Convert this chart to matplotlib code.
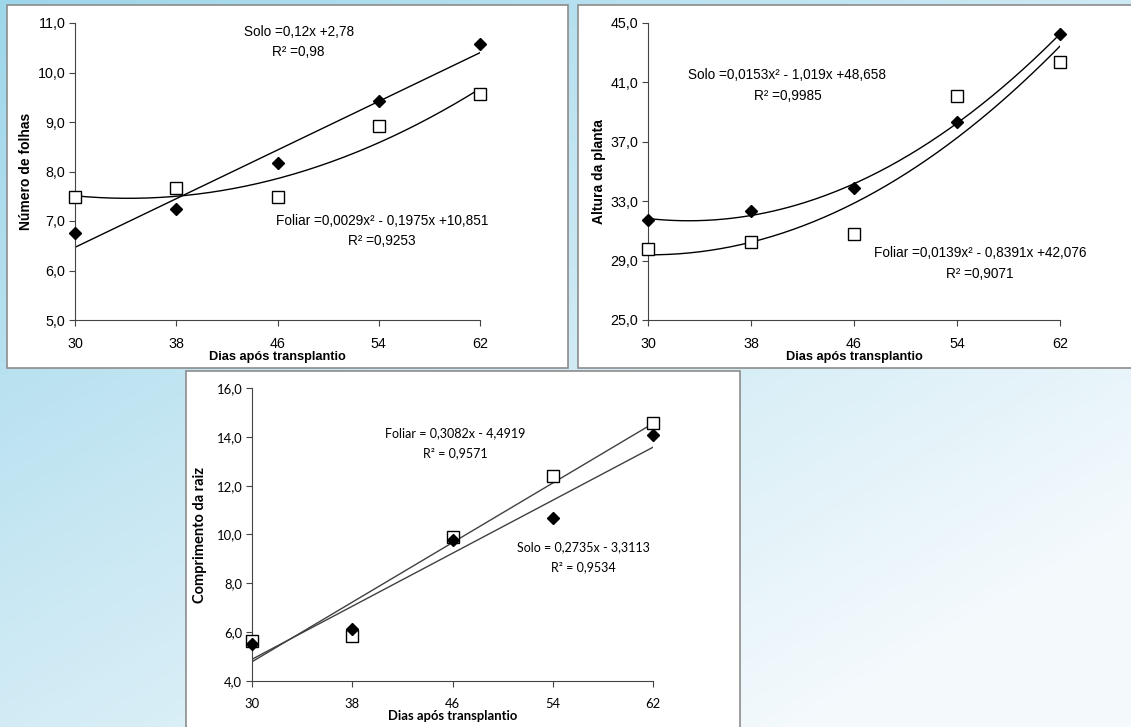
import numpy as np
import matplotlib.pyplot as plt
from matplotlib.patches import Rectangle
from matplotlib.ticker import FuncFormatter

plt.rcParams['font.family'] = ['Liberation Sans', 'DejaVu Sans']

dias = [30, 38, 46, 54, 62]

folhas_solo = [6.75, 7.25, 8.17, 9.42, 10.58]
folhas_foliar = [7.49, 7.66, 7.49, 8.91, 9.57]

altura_solo = [31.73, 32.33, 33.92, 38.30, 44.28]
altura_foliar = [29.75, 30.22, 30.76, 40.09, 42.38]

raiz_solo = [5.50, 6.12, 9.78, 10.69, 14.07]
raiz_foliar = [5.64, 5.84, 9.90, 12.40, 14.56]

W, H = 1131, 727
fig = plt.figure(figsize=(W / 100, H / 100), dpi=100)

# slide background (light blue gradient)
bg = fig.add_axes([0, 0, 1, 1])
bg.set_zorder(-5)
gx, gy = np.meshgrid(np.linspace(0, 1, 200), np.linspace(0, 1, 130))
t = np.clip(0.55 * gx + 0.6 * gy, 0, 1)
c0 = np.array([0.62, 0.84, 0.92])
c1 = np.array([0.96, 0.98, 0.99])
img = c0[None, None, :] * (1 - t[..., None]) + c1[None, None, :] * t[..., None]
bg.imshow(img, aspect='auto', extent=[0, 1, 0, 1])
bg.axis('off')


def caixa(x0, y0, x1, y1):
    fig.add_artist(Rectangle((x0 / W, 1 - y1 / H), (x1 - x0) / W, (y1 - y0) / H,
                             transform=fig.transFigure, fc='white', ec='#8c8c8c',
                             lw=1.2, zorder=-1))


def eixo(l, t, r, b):
    ax = fig.add_axes([l / W, 1 - b / H, (r - l) / W, (b - t) / H])
    ax.set_facecolor('none')
    return ax


def texto(x, y, s, size, fam):
    fig.text(x / W, 1 - y / H, s, ha='center', va='center', fontsize=size,
             family=fam)


virgula = FuncFormatter(lambda v, p: f'{v:.1f}'.replace('.', ','))
xs = np.linspace(30, 62, 200)


def painel(ax, solo, foliar, gs, gf, yticks, ylabel, cor, fam, fs, fl, ypad):
    ax.plot(xs, np.polyval(np.polyfit(dias, solo, gs), xs), color=cor, lw=1)
    ax.plot(xs, np.polyval(np.polyfit(dias, foliar, gf), xs), color=cor, lw=1)
    ax.plot(dias, foliar, ls='none', marker='s', ms=8.3, mfc='white', mec='black',
            mew=1, clip_on=False, zorder=3)
    ax.plot(dias, solo, ls='none', marker='D', ms=6.4, color='black',
            clip_on=False, zorder=4)
    ax.set_xlim(30, 62)
    ax.set_ylim(yticks[0], yticks[-1])
    ax.set_xticks(dias)
    ax.set_yticks(yticks)
    ax.yaxis.set_major_formatter(virgula)
    for s in ['top', 'right']:
        ax.spines[s].set_visible(False)
    for s in ['left', 'bottom']:
        ax.spines[s].set_color('#444444')
    ax.tick_params(labelsize=fs, length=4, color='#444444', pad=3)
    ax.tick_params(axis='x', pad=8)
    for lab in ax.get_xticklabels() + ax.get_yticklabels():
        lab.set_family(fam)
    ax.set_xlabel('Dias após transplantio', fontsize=fl[0], fontweight='bold',
                  labelpad=0, family=fam)
    ax.set_ylabel(ylabel, fontsize=fl[1], fontweight='bold', labelpad=ypad,
                  family=fam)


top_fam = ['Liberation Sans', 'DejaVu Sans']
bot_fam = ['Lato', 'DejaVu Sans']

# Número de folhas
caixa(7, 5, 568, 368)
ax1 = eixo(75, 23, 480, 320)
painel(ax1, folhas_solo, folhas_foliar, 1, 2, [5, 6, 7, 8, 9, 10, 11],
       'Número de folhas', 'black', top_fam, 10.3, (9.2, 10), 3)
texto(299, 32, 'Solo =0,12x +2,78', 9.8, top_fam)
texto(298, 52, 'R² =0,98', 9.8, top_fam)
texto(382, 221, 'Foliar =0,0029x² - 0,1975x +10,851', 9.8, top_fam)
texto(382, 241, 'R² =0,9253', 9.8, top_fam)

# Altura da planta
caixa(578, 5, 1140, 368)
ax2 = eixo(648, 23, 1060, 320)
painel(ax2, altura_solo, altura_foliar, 2, 2, [25, 29, 33, 37, 41, 45],
       'Altura da planta', 'black', top_fam, 10.3, (9.2, 10), 3)
texto(787, 75, 'Solo =0,0153x² - 1,019x +48,658', 9.8, top_fam)
texto(788, 96, 'R² =0,9985', 9.8, top_fam)
texto(980, 253, 'Foliar =0,0139x² - 0,8391x +42,076', 9.8, top_fam)
texto(980, 274, 'R² =0,9071', 9.8, top_fam)

# Comprimento da raiz
caixa(186, 371, 740, 735)
ax3 = eixo(252, 388, 653, 681)
painel(ax3, raiz_solo, raiz_foliar, 1, 1, [4, 6, 8, 10, 12, 14, 16],
       'Comprimento da raiz', '#404040', bot_fam, 9.4, (9.4, 10.5), 7)
texto(455, 433, 'Foliar = 0,3082x - 4,4919', 9.0, bot_fam)
texto(455, 453, 'R² = 0,9571', 9.0, bot_fam)
texto(583, 547, 'Solo = 0,2735x - 3,3113', 9.0, bot_fam)
texto(583, 567, 'R² = 0,9534', 9.0, bot_fam)

fig.savefig('out.png', dpi=100)
